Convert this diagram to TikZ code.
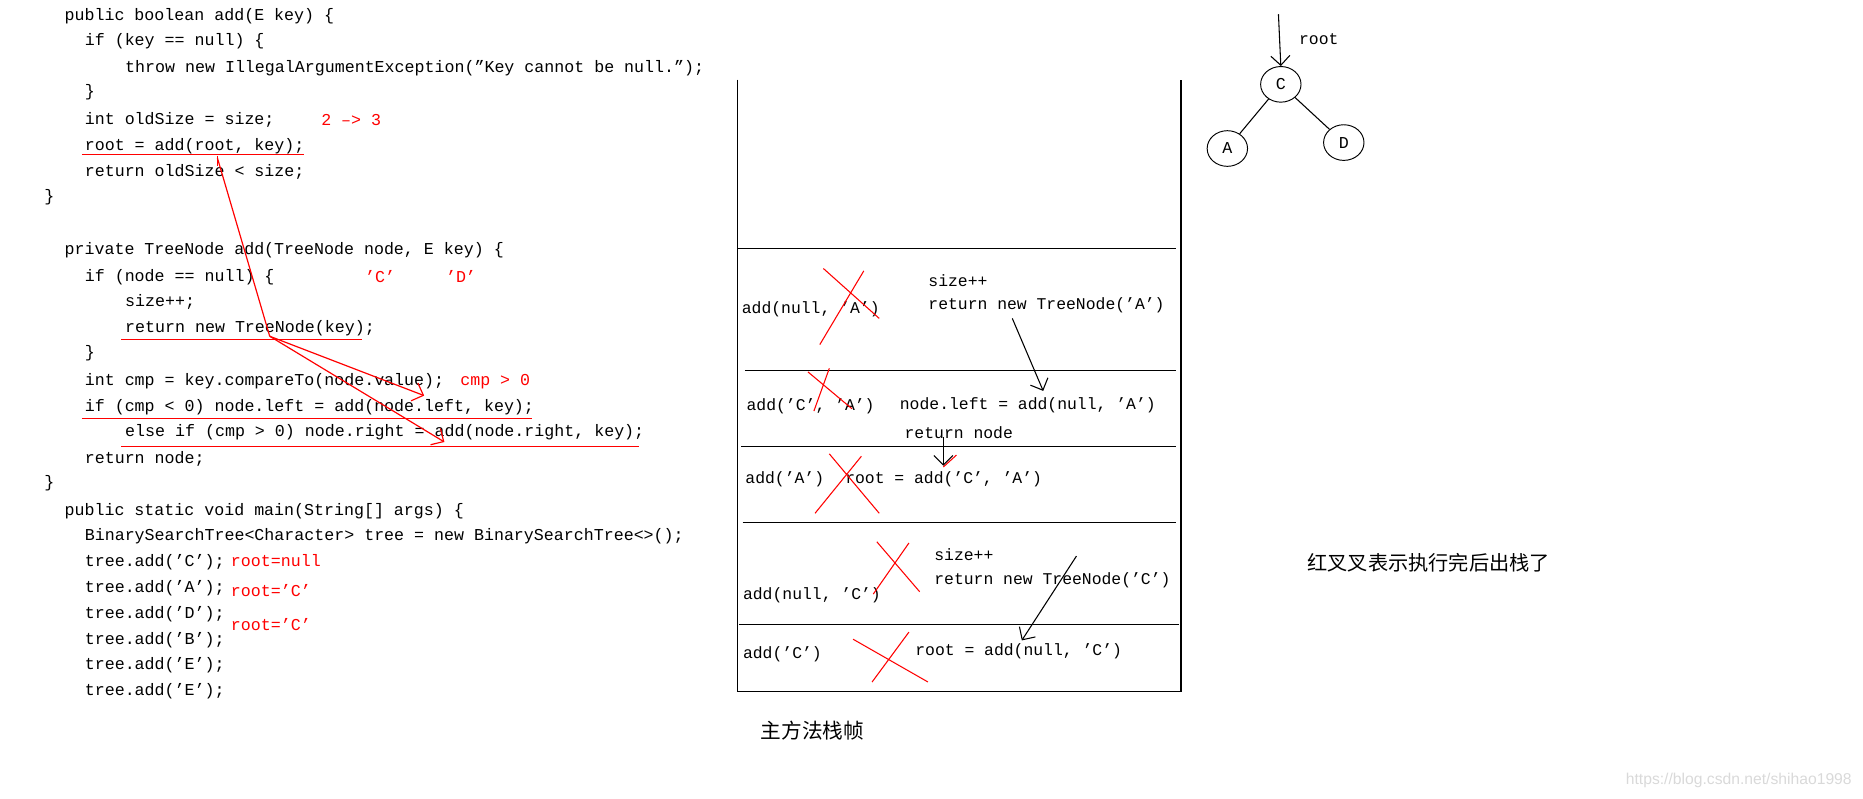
\documentclass[tikz,border=0pt]{standalone}
\usepackage{fontspec}
\usetikzlibrary{arrows.meta,shapes.geometric}
\setmainfont{Liberation Mono}
\newfontfamily\cjk{Noto Sans CJK SC}
\newfontfamily\sans{Liberation Sans}
\begin{document}
\begin{tikzpicture}[x=0.5pt,y=-0.5pt,
 code/.style={anchor=west,inner sep=0,font=\fontsize{7}{9}\selectfont},
 rc/.style={code,text=red},
 st/.style={anchor=west,inner sep=0,font=\fontsize{6.9}{8}\selectfont},
 rl/.style={red,line width=0.5pt},
 xr/.style={red,line width=0.45pt},
 bl/.style={black,line width=0.45pt},
 ar/.style={-{Straight Barb[length=4pt]}},
 nd/.style={draw,ellipse,minimum width=17pt,minimum height=15pt,inner sep=0,font=\fontsize{7}{8}\selectfont}]
\useasboundingbox (0,0) rectangle (1568,672);
% code
\node[code] (l1) at (54,14) {public boolean add(E key) \{};
\node[code] (l2) at (71,35) {if (key == null) \{};
\node[code] (l3) at (105,57) {throw new IllegalArgumentException(”Key cannot be null.”);};
\node[code] (l4) at (71,78) {\}};
\node[code] (l5) at (71,101) {int oldSize = size;};
\node[code] (l6) at (71,123) {root = add(root, key);};
\node[code] (l7) at (71,145) {return oldSize < size;};
\node[code] (l8) at (37,166) {\}};
\node[code] (l9) at (54,211) {private TreeNode add(TreeNode node, E key) \{};
\node[code] (l10) at (71,233) {if (node == null) \{};
\node[code] (l11) at (105,254) {size++;};
\node[code] (l12) at (105,276) {return new TreeNode(key);};
\node[code] (l13) at (71,297) {\}};
\node[code] (l14) at (71,321) {int cmp = key.compareTo(node.value);};
\node[code] (l15) at (71,343) {if (cmp < 0) node.left = add(node.left, key);};
\node[code] (l16) at (105,364) {else if (cmp > 0) node.right = add(node.right, key);};
\node[code] (l17) at (71,386) {return node;};
\node[code] (l18) at (37,407) {\}};
\node[code] (l19) at (54,430) {public static void main(String[] args) \{};
\node[code] (l20) at (71,451) {BinarySearchTree<Character> tree = new BinarySearchTree<>();};
\node[code] (m1) at (71,473) {tree.add(’C’);};
\node[code] (m2) at (71,495) {tree.add(’A’);};
\node[code] (m3) at (71,517) {tree.add(’D’);};
\node[code] (m4) at (71,539) {tree.add(’B’);};
\node[code] (m5) at (71,560) {tree.add(’E’);};
\node[code] (m6) at (71,582) {tree.add(’E’);};
% red annotations
\node[rc] (a1) at (270,101) {2 --> 3};
\node[rc] (a2) at (307,233) {’C’};
\node[rc] (a3) at (375,233) {’D’};
\node[rc] (a4) at (387,321) {cmp > 0};
\node[rc] (a5) at (194,472) {root=null};
\node[rc] (a6) at (194,497) {root=’C’};
\node[rc] (a7) at (194,526) {root=’C’};
\draw[rl] (69,130) -- (256,130);
\draw[rl] (102,286) -- (305,286);
\draw[rl] (69,352) -- (448,352);
\draw[rl] (102,376) -- (538,376);
\coordinate (r1) at (183,133);
\coordinate (r2) at (227,283);
\coordinate (r3) at (357,333);
\coordinate (r4) at (374,372);
\draw[rl] (r1) -- (r2);
\draw[rl] (183,131) -- (183,140);
\draw[rl,ar] (r2) -- (r3);
\draw[rl,ar] (r2) -- (r4);
% stack
\draw[bl] (621,67) -- (621,582) -- (994,582) -- (994,67);
\draw[bl] (621,209) -- (990,209);
\draw[bl] (627,312) -- (990,312);
\draw[bl] (624,376) -- (990,376);
\draw[bl] (625,440) -- (990,440);
\draw[bl] (622,526) -- (992,526);
\node[st] (s1) at (624,260) {add(null, ’A’)};
\node[st] (s2) at (781,236) {size++};
\node[st] (s3) at (781,257) {return new TreeNode(’A’)};
\node[st] (s4) at (628,342) {add(’C’, ’A’)};
\node[st] (s5) at (757,341) {node.left = add(null, ’A’)};
\node[st] (s6) at (761,364) {return node};
\node[st] (s7) at (627,403) {add(’A’)};
\node[st] (s8) at (711,403) {root = add(’C’, ’A’)};
\node[st] (s9) at (786,467) {size++};
\node[st] (s10) at (786,488) {return new TreeNode(’C’)};
\node[st] (s11) at (625,501) {add(null, ’C’)};
\node[st] (s12) at (625,551) {add(’C’)};
\node[st] (s13) at (770,548) {root = add(null, ’C’)};
\coordinate (b1) at (852,268); \coordinate (b2) at (878,329);
\draw[bl,ar] (b1) -- (b2);
\coordinate (b3) at (794,368); \coordinate (b4) at (794,392);
\draw[bl,ar] (b3) -- (b4);
\draw[xr] (794,393) -- (805,383);
\coordinate (b5) at (906,468); \coordinate (b6) at (860,539);
\draw[bl,ar] (b5) -- (b6);
% red crosses
\draw[xr] (690,290) -- (727,228) (693,226) -- (740,268);
\draw[xr] (685,346) -- (698,310) (680,313) -- (717,344);
\draw[xr] (686,432) -- (725,384) (698,382) -- (740,432);
\draw[xr] (735,500) -- (765,457) (738,456) -- (774,498);
\draw[xr] (734,574) -- (765,532) (718,538) -- (781,574);
% tree
\node[nd] (C) at (1078,71) {C};
\node[nd] (A) at (1033,125) {A};
\node[nd] (D) at (1131,120) {D};
\coordinate (rt) at (1076,12);
\draw[bl,ar] (rt) -- (C.north);
\node[st] (rl) at (1093,33) {root};
\draw[bl] (C) -- (A);
\draw[bl] (C) -- (D);
% chinese
\node[anchor=west,inner sep=0,font=\cjk\fontsize{8.5}{10}\selectfont] (t1) at (1100,474) {红叉叉表示执行完后出栈了};
\node[anchor=west,inner sep=0,font=\cjk\fontsize{8.7}{10}\selectfont] (t2) at (640,615) {主方法栈帧};
\node[anchor=west,inner sep=0,text=black!15,font=\sans\fontsize{6.6}{8}\selectfont] (wm) at (1368,657) {https://blog.csdn.net/shihao1998};
\end{tikzpicture}
\end{document}
